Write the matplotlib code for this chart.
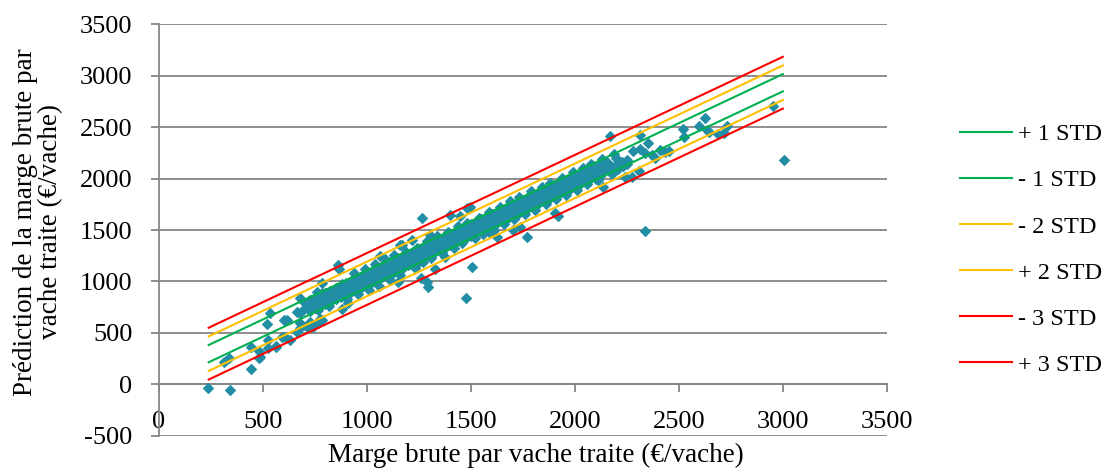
import numpy as np
import matplotlib
matplotlib.use("Agg")
from matplotlib import pyplot as plt

# dense band of points (x, three rows of y)
core_x = [725, 750, 775, 800, 825, 850, 875, 900, 925, 950, 975, 1000, 1025, 1050, 1075,
          1100, 1125, 1150, 1175, 1200, 1225, 1250, 1275, 1300, 1325, 1350, 1375, 1400,
          1425, 1450, 1475, 1500, 1525, 1550, 1575, 1600, 1625, 1650, 1675, 1700, 1725,
          1750, 1775, 1800, 1825, 1850, 1875, 1900, 1925, 1950, 1975, 2000, 2025, 2050,
          2075, 2100, 2125]
core_lo = [710, 740, 760, 780, 805, 830, 850, 875, 900, 920, 945, 970, 990, 1015, 1040,
           1065, 1085, 1110, 1135, 1160, 1180, 1205, 1230, 1255, 1280, 1300, 1325, 1350,
           1375, 1400, 1420, 1445, 1470, 1495, 1515, 1540, 1565, 1590, 1610, 1635, 1660,
           1685, 1710, 1730, 1755, 1780, 1805, 1830, 1850, 1875, 1900, 1925, 1950, 1975,
           2000, 2030, 2060]
core_mid = [765, 795, 812, 840, 855, 880, 910, 925, 955, 980, 1000, 1030, 1045, 1075, 1095,
            1120, 1145, 1170, 1190, 1215, 1240, 1265, 1290, 1310, 1335, 1360, 1385, 1405,
            1430, 1455, 1480, 1500, 1525, 1550, 1575, 1600, 1620, 1645, 1670, 1690, 1715,
            1740, 1765, 1790, 1810, 1835, 1860, 1885, 1910, 1930, 1955, 1975, 2000, 2020,
            2045, 2070, 2100]
core_hi = [815, 835, 860, 885, 910, 935, 960, 985, 1005, 1030, 1055, 1080, 1105, 1125, 1150,
           1175, 1200, 1225, 1250, 1270, 1295, 1320, 1340, 1365, 1390, 1415, 1440, 1460,
           1485, 1510, 1535, 1560, 1580, 1605, 1630, 1655, 1675, 1700, 1725, 1750, 1770,
           1795, 1820, 1845, 1865, 1890, 1915, 1935, 1960, 1985, 2005, 2030, 2040, 2060,
           2085, 2110, 2140]

# second, shifted pass through the band
fill_x = [737, 762, 787, 812, 837, 862, 887, 912, 937, 962, 987, 1012, 1037, 1062, 1087,
          1112, 1137, 1162, 1187, 1212, 1237, 1262, 1287, 1312, 1337, 1362, 1387, 1412,
          1437, 1462, 1487, 1512, 1537, 1562, 1587, 1612, 1637, 1662, 1687, 1712, 1737,
          1762, 1787, 1812, 1837, 1862, 1887, 1912, 1937, 1962, 1987, 2012, 2037, 2062,
          2087, 2112, 2137]
fill_a = [746, 770, 795, 818, 842, 865, 890, 913, 937, 962, 984, 1008, 1032, 1057, 1080,
          1104, 1127, 1151, 1176, 1199, 1223, 1247, 1270, 1294, 1318, 1343, 1366, 1389,
          1413, 1437, 1462, 1485, 1509, 1532, 1556, 1580, 1605, 1628, 1652, 1675, 1699,
          1723, 1748, 1771, 1794, 1818, 1842, 1866, 1890, 1915, 1937, 1961, 1985, 2009,
          2033, 2056, 2080]
fill_b = [804, 828, 852, 876, 900, 923, 948, 971, 995, 1019, 1042, 1066, 1090, 1115, 1138,
          1162, 1185, 1209, 1234, 1257, 1281, 1305, 1328, 1352, 1376, 1400, 1424, 1447,
          1471, 1495, 1519, 1543, 1567, 1590, 1614, 1638, 1662, 1686, 1710, 1733, 1757,
          1781, 1805, 1829, 1852, 1876, 1900, 1924, 1948, 1972, 1995, 2019, 2043, 2067,
          2091, 2114, 2138]

# scattered points near the band edges
edge_x = [760, 820, 880, 905, 940, 960, 990, 1010, 1040, 1060, 1090, 1110, 1130, 1160,
          1190, 1230, 1240, 1270, 1290, 1310, 1340, 1360, 1390, 1420, 1440, 1460, 1480,
          1520, 1540, 1560, 1590, 1610, 1640, 1660, 1690, 1710, 1730, 1760, 1790, 1810,
          1840, 1860, 1880, 1910, 1940, 1960, 1990, 2010, 2040, 2060, 2080, 2110, 2150,
          2180, 2200, 2230, 2250, 2190, 2130, 2150, 2175, 2200, 2225, 2160, 2210, 2250,
          2100, 2125]
edge_y = [900, 760, 980, 830, 1080, 880, 1120, 920, 1170, 960, 1220, 1010, 1260, 1060,
          1290, 1130, 1330, 1190, 1390, 1230, 1440, 1280, 1480, 1330, 1540, 1370, 1570,
          1420, 1620, 1460, 1680, 1500, 1720, 1560, 1780, 1610, 1820, 1660, 1880, 1700,
          1920, 1750, 1960, 1800, 2010, 1840, 2060, 1890, 2100, 1950, 2140, 1990, 2160,
          2050, 2200, 2120, 2180, 2240, 2190, 2080, 2110, 2130, 2160, 2150, 2090, 2140,
          2000, 2040]

# isolated points
out_x = [238, 343, 444, 314, 340, 484, 444, 484, 527, 524, 562, 535, 519, 602, 607, 631,
         679, 487, 564, 591, 615, 663, 679, 727, 751, 767, 663, 679, 712, 679, 727, 743,
         767, 775, 784, 695, 703, 751, 784, 784, 800, 808, 863, 868, 880, 912, 1064, 1160,
         1152, 1288, 1296, 1120, 1216, 1168, 1248, 1261, 1267, 1304, 1328, 1376, 1400,
         1449, 1484, 1497, 1477, 1508, 1593, 1625, 1705, 1737, 1772, 1905, 1918, 2135,
         2170, 2242, 2274, 2311, 2314, 2279, 2314, 2338, 2351, 2370, 2386, 2410, 2434,
         2455, 2338, 2522, 2527, 2598, 2626, 2637, 2647, 2690, 2719, 2731, 2955, 3005]
out_y = [-39, -55, 152, 220, 253, 259, 366, 327, 431, 350, 366, 690, 586, 625, 463, 431,
         836, 268, 372, 463, 625, 706, 690, 820, 771, 722, 511, 545, 560, 593, 609, 560,
         593, 632, 625, 722, 787, 820, 891, 982, 803, 885, 1160, 1118, 729, 793, 1247, 1354,
         997, 997, 949, 1208, 1403, 1354, 1176, 1036, 1614, 1452, 1118, 1241, 1646, 1636,
         1711, 1721, 842, 1143, 1468, 1429, 1500, 1532, 1429, 1668, 1636, 1918, 2414, 2018,
         2018, 2077, 2424, 2271, 2285, 2246, 2343, 2229, 2197, 2278, 2261, 2271, 1490, 2479,
         2407, 2511, 2586, 2472, 2450, 2433, 2440, 2511, 2709, 2178]

# STD lines (end points)
line_x = [240, 3000]
plus1 = [382, 3017]
minus1 = [214, 2849]
minus2 = [130, 2765]
plus2 = [466, 3101]
minus3 = [46, 2681]
plus3 = [550, 3185]

plt.rcParams["font.family"] = ["Liberation Serif", "DejaVu Serif"]
plt.rcParams["axes.unicode_minus"] = False
grid_col = "#868686"

fig = plt.figure(figsize=(11.07, 4.70), dpi=100)
ax = fig.add_axes([0.1434, 0.073, 0.6577, 0.875])

px = core_x * 3 + fill_x * 2 + edge_x + out_x
py = core_lo + core_mid + core_hi + fill_a + fill_b + edge_y + out_y
ax.plot(px, py, linestyle="none", marker="D", markersize=5.6,
        color="#218EA5", markeredgecolor="#218EA5", markeredgewidth=0.8, zorder=3)

green, orange, red = "#00B050", "#FFC000", "#FF0000"
ax.plot(line_x, plus1, color=green, lw=1.5, label="+ 1 STD", zorder=4)
ax.plot(line_x, minus1, color=green, lw=1.5, label="- 1 STD", zorder=4)
ax.plot(line_x, minus2, color=orange, lw=1.5, label="- 2 STD", zorder=4)
ax.plot(line_x, plus2, color=orange, lw=1.5, label="+ 2 STD", zorder=4)
ax.plot(line_x, minus3, color=red, lw=1.5, label="- 3 STD", zorder=4)
ax.plot(line_x, plus3, color=red, lw=1.5, label="+ 3 STD", zorder=4)

ax.set_xlim(0, 3500)
ax.set_ylim(-500, 3500)
ax.set_xticks(np.arange(0, 3501, 500))
ax.set_yticks(np.arange(-500, 3501, 500))
ax.yaxis.grid(True, color=grid_col, lw=1.3)
ax.set_axisbelow(True)

for s in ["top", "right"]:
    ax.spines[s].set_visible(False)
ax.spines["bottom"].set_position(("data", 0))
ax.spines["bottom"].set_color(grid_col)
ax.spines["bottom"].set_linewidth(1.3)
ax.spines["left"].set_color(grid_col)
ax.spines["left"].set_linewidth(1.3)
ax.tick_params(axis="x", direction="out", length=6, width=1.3, color=grid_col,
               labelsize=19, pad=13)
ax.tick_params(axis="y", direction="out", length=6, width=1.3, color=grid_col,
               labelsize=19, pad=13)

ax.set_xlabel("Marge brute par vache traite (€/vache)", fontsize=19.5)
ax.xaxis.set_label_coords(0.518, -0.047)
ax.xaxis.label.set_va("center")
ax.set_ylabel("Prédiction de la marge brute par\nvache traite (€/vache)", fontsize=19.5,
              linespacing=1.0)
ax.yaxis.set_label_coords(-0.166, 0.52)
ax.yaxis.label.set_va("center")

fig.legend(loc="center left", bbox_to_anchor=(0.867, 0.469), frameon=False,
           fontsize=17.5, handlelength=2.14, handletextpad=0.25, labelspacing=0.99,
           borderpad=0, borderaxespad=0)

fig.savefig("out.png", dpi=100)
